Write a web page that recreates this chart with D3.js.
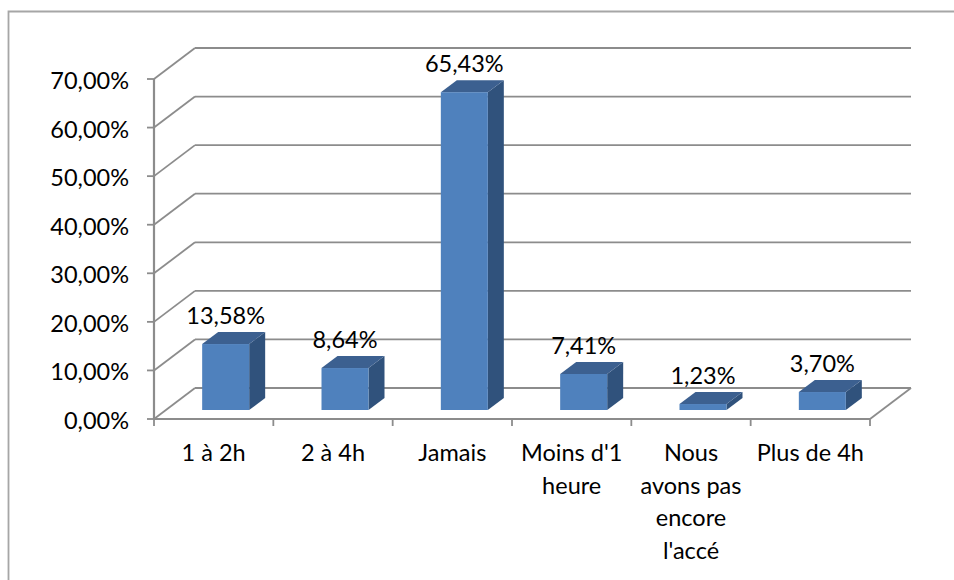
<!DOCTYPE html>
<html><head><meta charset="utf-8"><script src="https://cdn.jsdelivr.net/npm/d3@7"></script>
<style>html,body{margin:0;background:#fff}svg{display:block}text{font-family:Lato,Carlito,sans-serif;font-size:23.5px;fill:#000}</style></head>
<body><svg id="c" width="954" height="580"></svg>
<script>
const categories = ["1 à 2h","2 à 4h","Jamais","Moins d'1 heure","Nous avons pas encore l'accé","Plus de 4h"];
const categoryLines = [["1 à 2h"],["2 à 4h"],["Jamais"],["Moins d'1","heure"],["Nous","avons pas","encore","l'accé"],["Plus de 4h"]];
const values = [13.58,8.64,65.43,7.41,1.23,3.70];
const valueLabels = ["13,58%","8,64%","65,43%","7,41%","1,23%","3,70%"];
const yTicks = [0,10,20,30,40,50,60,70];
const tickLabels = ["0,00%","10,00%","20,00%","30,00%","40,00%","50,00%","60,00%","70,00%"];

const svg = d3.select("#c");
const grey = "#8c8c8c";
const depth = {x:41,y:-31};
const barShift = {x:12,y:-9};
const barDepth = {x:16,y:-12};
const y = d3.scaleLinear().domain([0,70]).range([419,79]);
const x = d3.scaleBand().domain(categories).range([154,870]);

// chart frame: top and left edges only, the others are cropped off
svg.append("path").attr("d","M954,11.5H8.5V580").attr("fill","none").attr("stroke","#a6a6a6").attr("stroke-width",1.8);

const line = (x1,y1,x2,y2,w=1.8,c=grey)=>svg.append("line").attr("x1",x1).attr("y1",y1).attr("x2",x2).attr("y2",y2).attr("stroke",c).attr("stroke-width",w);

yTicks.forEach(t=>{
  const yy=y(t);
  line(154,yy,154+depth.x,yy+depth.y);
  line(154+depth.x,yy+depth.y,870+depth.x,yy+depth.y);
  line(147,yy,154,yy);
});
line(870,y(0),870+depth.x,y(0)+depth.y);
line(154,y(0),870,y(0),2.2);
line(154,y(70),154,y(0),2.2);
[...categories.map(c=>x(c)),870].forEach(v=>line(v,y(0),v,y(0)+7));

svg.selectAll(".yl").data(yTicks).join("text").attr("class","yl")
  .attr("x",129).attr("y",d=>y(d)+10).attr("text-anchor","end").text((d,i)=>tickLabels[i]);

const g = svg.selectAll(".bar").data(categories).join("g").attr("class","bar");
const bw = 47;
const bx = c=>x(c)+x.bandwidth()/2-bw/2+barShift.x;
const top_ = (c,i)=>y(values[i])+barShift.y;
const bot = y(0)+barShift.y;
const poly=(pts)=>pts.map(p=>p.join(",")).join(" ");
g.append("polygon").attr("fill","#30527c").attr("points",(c,i)=>{const l=bx(c)+bw,t=top_(c,i);
  return poly([[l,t],[l+barDepth.x,t+barDepth.y],[l+barDepth.x,bot+barDepth.y],[l,bot]]);});
g.append("polygon").attr("fill","#3c6090").attr("points",(c,i)=>{const l=bx(c),t=top_(c,i);
  return poly([[l,t],[l+barDepth.x,t+barDepth.y],[l+bw+barDepth.x,t+barDepth.y],[l+bw,t]]);});
g.append("rect").attr("fill","#4f81bd").attr("x",c=>bx(c)).attr("y",(c,i)=>top_(c,i)).attr("width",bw).attr("height",(c,i)=>bot-top_(c,i));

svg.selectAll(".dl").data(categories).join("text").attr("class","dl")
  .attr("x",c=>x(c)+x.bandwidth()/2+barShift.x).attr("y",(c,i)=>top_(c,i)-20)
  .attr("text-anchor","middle").text((c,i)=>valueLabels[i]);

categories.forEach((c,i)=>{
  categoryLines[i].forEach((l,j)=>{
    svg.append("text").attr("x",x(c)+x.bandwidth()/2).attr("y",461+j*32.5).attr("text-anchor","middle").text(l);
  });
});
</script></body></html>
